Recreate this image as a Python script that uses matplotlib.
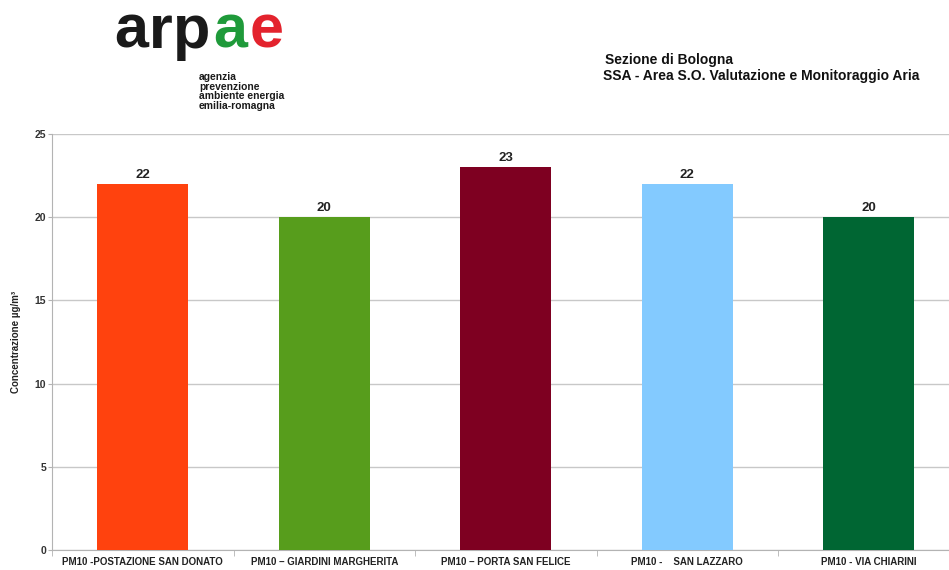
import matplotlib.pyplot as plt
import numpy as np

# data
stations = ["PM10 -POSTAZIONE SAN DONATO", "PM10 – GIARDINI MARGHERITA",
            "PM10 – PORTA SAN FELICE", "PM10 -    SAN LAZZARO", "PM10 - VIA CHIARINI"]
values = [22, 20, 23, 22, 20]
colors = ["#FF420E", "#579D1C", "#7E0021", "#83CAFF", "#006633"]
yticks = [0, 5, 10, 15, 20, 25]

plt.rcParams['font.family'] = ['Liberation Sans', 'DejaVu Sans']

W, H = 949, 570
fig = plt.figure(figsize=(W / 100, H / 100), dpi=100)

# plot area (runs a bit past the right edge, like the original)
left, right, top, bottom = 52, 959.5, 134, 550
ax = fig.add_axes([left / W, 1 - bottom / H, (right - left) / W, (bottom - top) / H])

x = np.arange(len(values))
bars = ax.bar(x, values, width=0.5, color=colors, zorder=3)
for xi, v in zip(x, values):
    ax.text(xi, v + 0.38, str(v), ha='center', va='baseline', fontsize=9.5,
            fontweight='bold', color='#222222')

ax.set_xlim(-0.5, len(values) - 0.5)
ax.set_ylim(0, 25)
ax.set_yticks(yticks)
ax.set_yticklabels([str(t) for t in yticks], fontsize=7.5, fontweight='bold', color='#333333')
ax.yaxis.grid(True, color='#c8c8c8', linewidth=1, zorder=0)
ax.set_axisbelow(True)

ax.set_xticks(x)
ax.set_xticklabels(stations, fontsize=7, fontweight='bold', color='#222222')
ax.set_xticks(np.arange(len(values) + 1) - 0.5, minor=True)
ax.tick_params(axis='x', which='major', length=0, pad=5)
ax.tick_params(axis='x', which='minor', length=4, color='#b3b3b3', direction='out')
ax.tick_params(axis='y', length=3, color='#b3b3b3', pad=1.3)

for s in ['top', 'right']:
    ax.spines[s].set_visible(False)
for s in ['left', 'bottom']:
    ax.spines[s].set_color('#b3b3b3')

ax.set_ylabel("Concentrazione µg/m³", fontsize=7, fontweight='bold', color='#222222',
              labelpad=10)

# header: logo and section title
def px(xp, yp):
    return xp / W, 1 - yp / H

logo = [("a", 114, '#1a1a1a'), ("r", 149, '#1a1a1a'), ("p", 173, '#1a1a1a'),
        ("a", 213, '#1f9a3a'), ("e", 250, '#e3232d')]
for ch, lx, c in logo:
    fig.text(*px(lx, 48), ch, fontsize=44, fontweight='bold', color=c,
             ha='left', va='baseline')
fig.text(*px(199, 72), "agenzia\nprevenzione\nambiente energia\nemilia-romagna",
         fontsize=7.4, fontweight='bold', color='#1a1a1a', ha='left', va='top',
         linespacing=0.95)

fig.text(*px(605, 60), "Sezione di Bologna", fontsize=10, fontweight='bold',
         color='#111111', ha='left', va='center')
fig.text(*px(603, 76), "SSA - Area S.O. Valutazione e Monitoraggio Aria", fontsize=10,
         fontweight='bold', color='#111111', ha='left', va='center')

fig.savefig("out.png", dpi=100)
